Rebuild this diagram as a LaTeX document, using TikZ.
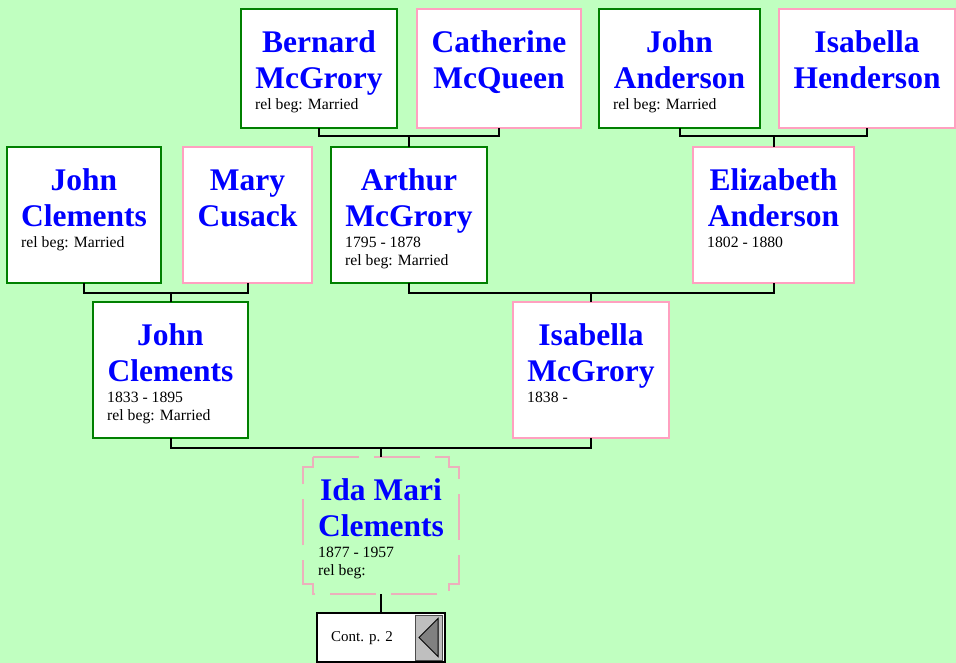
\documentclass[tikz,border=0pt]{standalone}
\usepackage{fontspec}
\setmainfont{Liberation Serif}
\usetikzlibrary{calc}
\definecolor{bggreen}{RGB}{192,255,192}
\definecolor{mgreen}{RGB}{0,128,0}
\definecolor{fpink}{RGB}{255,160,192}
\definecolor{nameblue}{RGB}{0,0,255}
\definecolor{idapink}{RGB}{236,176,188}
\tikzset{
  male/.style={rectangle, draw=mgreen, line width=2pt, fill=white, inner sep=0pt, outer sep=0pt},
  female/.style={rectangle, draw=fpink, line width=2pt, fill=white, inner sep=0pt, outer sep=0pt},
  pname/.style={anchor=north, inner sep=0pt, align=center, text=nameblue, font=\fontsize{31.5}{36}\selectfont\bfseries},
  pinfo/.style={anchor=north west, inner sep=0pt, align=left, font=\fontsize{15.7}{18}\selectfont},
  link/.style={line width=2pt, black},
}

\begin{document}
\begin{tikzpicture}[x=1pt, y=-1pt]
    \fill[bggreen] (0,0) rectangle (956,663);
    \useasboundingbox (0,0) rectangle (956,663);
    % great grandparents
    \node[male, minimum width=156pt, minimum height=119pt] (bm) at (319,68.5) {};
    \node[pname] (bmn) at ($(bm.north)+(0,17.8)$) {\strut Bernard\\McGrory};
    \node[pinfo] (bmi) at ($(bm.north west)+(14,87.4)$) {\strut rel beg: Married};
    \node[female, minimum width=164pt, minimum height=119pt] (cq) at (499,68.5) {};
    \node[pname] (cqn) at ($(cq.north)+(0,17.8)$) {\strut Catherine\\McQueen};
    \node[male, minimum width=161pt, minimum height=119pt] (ja) at (679.5,68.5) {};
    \node[pname] (jan) at ($(ja.north)+(0,17.8)$) {\strut John\\Anderson};
    \node[pinfo] (jai) at ($(ja.north west)+(14,87.4)$) {\strut rel beg: Married};
    \node[female, minimum width=176pt, minimum height=119pt] (ih) at (867,68.5) {};
    \node[pname] (ihn) at ($(ih.north)+(0,17.8)$) {\strut Isabella\\Henderson};
    % grandparents
    \node[male, minimum width=154pt, minimum height=136pt] (jcA) at (84,215) {};
    \node[pname] (jcAn) at ($(jcA.north)+(0,17.8)$) {\strut John\\Clements};
    \node[pinfo] (jcAi) at ($(jcA.north west)+(14,87.4)$) {\strut rel beg: Married};
    \node[female, minimum width=129pt, minimum height=136pt] (mc) at (247.5,215) {};
    \node[pname] (mcn) at ($(mc.north)+(0,17.8)$) {\strut Mary\\Cusack};
    \node[male, minimum width=156pt, minimum height=136pt] (am) at (409,215) {};
    \node[pname] (amn) at ($(am.north)+(0,17.8)$) {\strut Arthur\\McGrory};
    \node[pinfo] (ami) at ($(am.north west)+(14,87.4)$) {\strut 1795 - 1878\\rel beg: Married};
    \node[female, minimum width=161pt, minimum height=136pt] (ea) at (773.5,215) {};
    \node[pname] (ean) at ($(ea.north)+(0,17.8)$) {\strut Elizabeth\\Anderson};
    \node[pinfo] (eai) at ($(ea.north west)+(14,87.4)$) {\strut 1802 - 1880};
    % parents
    \node[male, minimum width=155pt, minimum height=136pt] (jcB) at (170.5,370) {};
    \node[pname] (jcBn) at ($(jcB.north)+(0,17.8)$) {\strut John\\Clements};
    \node[pinfo] (jcBi) at ($(jcB.north west)+(14,87.4)$) {\strut 1833 - 1895\\rel beg: Married};
    \node[female, minimum width=156pt, minimum height=136pt] (im) at (591,370) {};
    \node[pname] (imn) at ($(im.north)+(0,17.8)$) {\strut Isabella\\McGrory};
    \node[pinfo] (imi) at ($(im.north west)+(14,87.4)$) {\strut 1838 -};
    % Ida Mari
    \node[inner sep=0pt, outer sep=0pt, minimum width=156pt, minimum height=137pt] (ida) at (381,525.5) {};
    \draw[idapink, line width=1.3pt, dash pattern=on 46pt off 15pt]
      ($(ida.north west)+(10,0)$) -- ($(ida.north east)+(-10,0)$) -- ++(0,10) -- ++(10,0)
      -- ($(ida.south east)+(0,-10)$) -- ++(-10,0) -- ++(0,10) -- ($(ida.south west)+(10,0)$)
      -- ++(0,-10) -- ++(-10,0) -- ($(ida.north west)+(0,10)$) -- ++(10,0) -- cycle;
    \node[pname] (idan) at ($(ida.north)+(0,17.8)$) {\strut Ida Mari\\Clements};
    \node[pinfo] (idai) at ($(ida.north west)+(15,87.4)$) {\strut 1877 - 1957\\rel beg:};
    % continuation
    \node[rectangle, draw=black, line width=2pt, fill=white, inner sep=0pt, outer sep=0pt,
      minimum width=128pt, minimum height=49pt] (cont) at (381,637.5) {};
    \node[anchor=base west, inner sep=0pt, font=\fontsize{15}{18}\selectfont] (contt) at ($(cont.west)+(14,4)$) {Cont. p. 2};
    \draw[fill=black!25, draw=black!70, line width=1pt] ($(cont.north east)+(-30,2)$) rectangle ($(cont.south east)+(-3,-2)$);
    \draw[fill=black!50, draw=black, line width=1pt] ($(cont.east)+(-26,0)$) -- ($(cont.east)+(-7,-19)$) -- ($(cont.east)+(-7,19)$) -- cycle;
    % connectors
    \draw[link] (bm.south) -- ++(0,8.5) coordinate (barA) -| (cq.south);
    \draw[link] (am.north) -- (am.north |- barA);
    \draw[link] (ja.south) -- ++(0,8.5) coordinate (barB) -| (ih.south);
    \draw[link] (ea.north) -- (ea.north |- barB);
    \draw[link] (jcA.south) -- ++(0,10) coordinate (barC) -| (mc.south);
    \draw[link] (jcB.north) -- (jcB.north |- barC);
    \draw[link] (am.south) -- ++(0,10) coordinate (barD) -| (ea.south);
    \draw[link] (im.north) -- (im.north |- barD);
    \draw[link] (jcB.south) -- ++(0,10) coordinate (barE) -| (im.south);
    \draw[link] (ida.north) -- (ida.north |- barE);
    \draw[link] (ida.south) -- (cont.north);
\end{tikzpicture}
\end{document}
